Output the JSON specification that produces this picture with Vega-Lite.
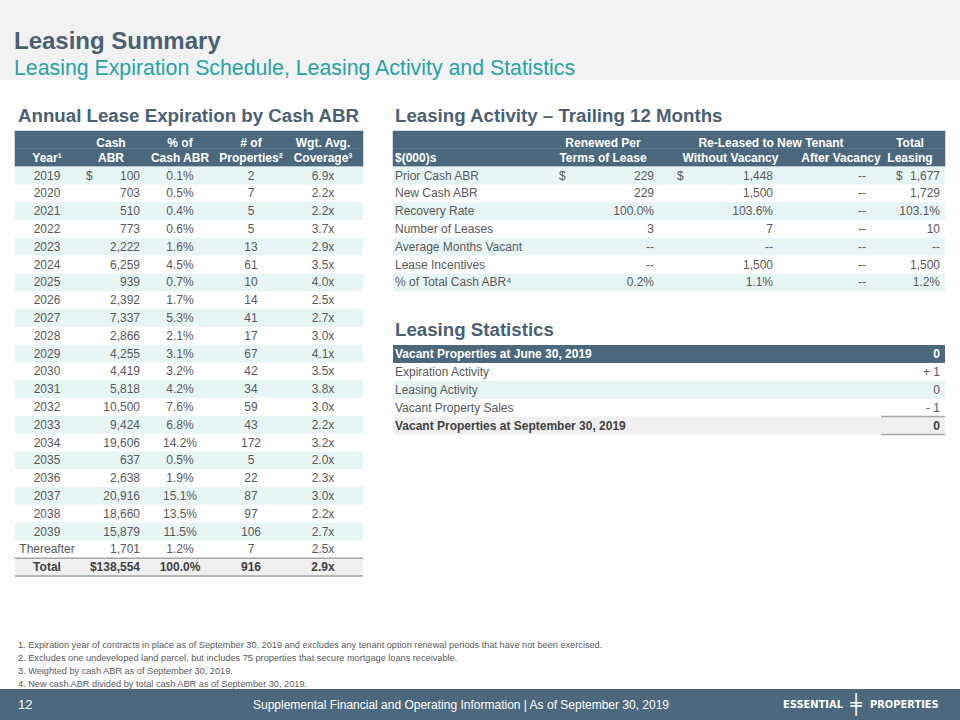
{
"$schema": "https://vega.github.io/schema/vega-lite/v6.json",
"width": 960, "height": 640,
"autosize": {"type": "none"},
"padding": {"left": 0, "top": 80, "right": 0, "bottom": 0},
"background": "#f2f2f2",
"config": {"font": "Liberation Sans", "view": {"fill": "#ffffff", "stroke": null}, "text": {"font": "Liberation Sans", "fontSize": 12, "color": "#595959"}},
"title": {"text": "Leasing Summary", "subtitle": "Leasing Expiration Schedule, Leasing Activity and Statistics", "anchor": "start", "frame": "group", "orient": "top", "offset": 1, "dx": 14, "font": "Liberation Sans", "fontSize": 24, "fontWeight": "bold", "color": "#4b6070", "subtitleFont": "Liberation Sans", "subtitleFontSize": 21.3, "subtitleFontWeight": "normal", "subtitleColor": "#27a3a5", "subtitlePadding": 4},
"datasets": {
"expiry": [
{"row":"2019","abr":100,"share":0.001,"props":2,"cov":6.9},
{"row":"2020","abr":703,"share":0.005,"props":7,"cov":2.2},
{"row":"2021","abr":510,"share":0.004,"props":5,"cov":2.2},
{"row":"2022","abr":773,"share":0.006,"props":5,"cov":3.7},
{"row":"2023","abr":2222,"share":0.016,"props":13,"cov":2.9},
{"row":"2024","abr":6259,"share":0.045,"props":61,"cov":3.5},
{"row":"2025","abr":939,"share":0.007,"props":10,"cov":4.0},
{"row":"2026","abr":2392,"share":0.017,"props":14,"cov":2.5},
{"row":"2027","abr":7337,"share":0.053,"props":41,"cov":2.7},
{"row":"2028","abr":2866,"share":0.021,"props":17,"cov":3.0},
{"row":"2029","abr":4255,"share":0.031,"props":67,"cov":4.1},
{"row":"2030","abr":4419,"share":0.032,"props":42,"cov":3.5},
{"row":"2031","abr":5818,"share":0.042,"props":34,"cov":3.8},
{"row":"2032","abr":10500,"share":0.076,"props":59,"cov":3.0},
{"row":"2033","abr":9424,"share":0.068,"props":43,"cov":2.2},
{"row":"2034","abr":19606,"share":0.142,"props":172,"cov":3.2},
{"row":"2035","abr":637,"share":0.005,"props":5,"cov":2.0},
{"row":"2036","abr":2638,"share":0.019,"props":22,"cov":2.3},
{"row":"2037","abr":20916,"share":0.151,"props":87,"cov":3.0},
{"row":"2038","abr":18660,"share":0.135,"props":97,"cov":2.2},
{"row":"2039","abr":15879,"share":0.115,"props":106,"cov":2.7},
{"row":"Thereafter","abr":1701,"share":0.012,"props":7,"cov":2.5},
{"row":"Total","abr":138554,"share":1.0,"props":916,"cov":2.9}
],
"expiryHeader": [
{"row":"title","heading":"Annual Lease Expiration by Cash ABR"},
{"row":"h1","year":"","abr":"Cash","pct":"% of","props":"# of","cov":"Wgt. Avg."},
{"row":"h2","year":"Year¹","abr":"ABR","pct":"Cash ABR","props":"Properties²","cov":"Coverage³"}
],
"activity": [
{"row":"Prior Cash ABR","renewed":"229","without":"1,448","after":"--","total":"1,677"},
{"row":"New Cash ABR","renewed":"229","without":"1,500","after":"--","total":"1,729"},
{"row":"Recovery Rate","renewed":"100.0%","without":"103.6%","after":"--","total":"103.1%"},
{"row":"Number of Leases","renewed":"3","without":"7","after":"--","total":"10"},
{"row":"Average Months Vacant","renewed":"--","without":"--","after":"--","total":"--"},
{"row":"Lease Incentives","renewed":"--","without":"1,500","after":"--","total":"1,500"},
{"row":"% of Total Cash ABR⁴","renewed":"0.2%","without":"1.1%","after":"--","total":"1.2%"}
],
"activityHeader": [
{"row":"title","heading":"Leasing Activity – Trailing 12 Months"},
{"row":"h1","metric":"","renewed":"Renewed Per","group":"Re-Leased to New Tenant","without":"","after":"","total":"Total"},
{"row":"h2","metric":"$(000)s","renewed":"Terms of Lease","group":"","without":"Without Vacancy","after":"After Vacancy","total":"Leasing"}
],
"stats": [
{"row":"Vacant Properties at June 30, 2019","value":0},
{"row":"Expiration Activity","value":1},
{"row":"Leasing Activity","value":0},
{"row":"Vacant Property Sales","value":-1},
{"row":"Vacant Properties at September 30, 2019","value":0}
],
"notes": [
{"n":1,"note":"Expiration year of contracts in place as of September 30, 2019 and excludes any tenant option renewal periods that have not been exercised."},
{"n":2,"note":"Excludes one undeveloped land parcel, but includes 75 properties that secure mortgage loans receivable."},
{"n":3,"note":"Weighted by cash ABR as of September 30, 2019."},
{"n":4,"note":"New cash ABR divided by total cash ABR as of September 30, 2019."}
],
"footer": [
{"row":"footer","page":12,"caption":"Supplemental Financial and Operating Information |  As of September 30, 2019","brand1":"ESSENTIAL","brand2":"PROPERTIES"}
]
},
"resolve": {"scale": {"x": "independent", "y": "independent"}},
"layer": [
{
"encoding": {"y": {"field": "row", "type": "nominal", "axis": null, "scale": {"type":"band","domain":["title","h1","h2","2019","2020","2021","2022","2023","2024","2025","2026","2027","2028","2029","2030","2031","2032","2033","2034","2035","2036","2037","2038","2039","Thereafter","Total"],"range":[33.2,496],"paddingInner":0,"paddingOuter":0}}},
"layer": [
{"data":{"name":"expiryHeader"},"transform":[{"filter":"datum.row != 'title'"}],"mark":{"type":"rect","color":"#4b687e","stroke":"#4b687e","strokeWidth":0.5},
 "encoding":{"x":{"datum":0,"type":"quantitative","axis":null,"scale":{"type":"linear","domain":[0,1,2,3,4,5,6,7,8,9],"range":[15,18,47,86,111,140,180,251,323,363],"nice":false,"zero":false}},"x2":{"datum":9}}},
{"data":{"name":"expiry"},"transform":[{"filter":"+datum.row % 2 == 1"}],"mark":{"type":"rect","color":"#e8f5f5"},
 "encoding":{"x":{"datum":0,"type":"quantitative","axis":null,"scale":{"type":"linear","domain":[0,1,2,3,4,5,6,7,8,9],"range":[15,18,47,86,111,140,180,251,323,363],"nice":false,"zero":false}},"x2":{"datum":9}}},
{"data":{"name":"expiry"},"transform":[{"filter":"datum.row == 'Total'"}],"mark":{"type":"rect","color":"#f0f0f0"},
 "encoding":{"x":{"datum":0,"type":"quantitative","axis":null,"scale":{"type":"linear","domain":[0,1,2,3,4,5,6,7,8,9],"range":[15,18,47,86,111,140,180,251,323,363],"nice":false,"zero":false}},"x2":{"datum":9}}},
{"data":{"name":"expiry"},"transform":[{"filter":"datum.row == 'Total'"}],"mark":{"type":"rule","color":"#a6a6a6","strokeWidth":1.5},
 "encoding":{"y":{"field":"row","type":"nominal","bandPosition":0,"axis":null},"x":{"datum":0,"type":"quantitative","axis":null,"scale":{"type":"linear","domain":[0,1,2,3,4,5,6,7,8,9],"range":[15,18,47,86,111,140,180,251,323,363],"nice":false,"zero":false}},"x2":{"datum":9}}},
{"data":{"name":"expiry"},"transform":[{"filter":"datum.row == 'Total'"}],"mark":{"type":"rule","color":"#a6a6a6","strokeWidth":1.5},
 "encoding":{"y":{"field":"row","type":"nominal","bandPosition":1,"axis":null},"x":{"datum":0,"type":"quantitative","axis":null,"scale":{"type":"linear","domain":[0,1,2,3,4,5,6,7,8,9],"range":[15,18,47,86,111,140,180,251,323,363],"nice":false,"zero":false}},"x2":{"datum":9}}},
{"data":{"name":"expiry"},"mark":{"type":"text","align":"center","fontWeight":{"expr":"datum.row == 'Total' ? 'bold' : 'normal'"},"color":{"expr":"datum.row == 'Total' ? '#404040' : '#595959'"}},
 "encoding":{"x":{"datum":2,"type":"quantitative","axis":null,"scale":{"type":"linear","domain":[0,1,2,3,4,5,6,7,8,9],"range":[15,18,47,86,111,140,180,251,323,363],"nice":false,"zero":false}},"text":{"field":"row","type":"nominal"}}},
{"data":{"name":"expiry"},"transform":[{"filter":"datum.row == '2019'"}],"mark":{"type":"text","align":"left","text":"$"},
 "encoding":{"x":{"datum":3,"type":"quantitative","axis":null,"scale":{"type":"linear","domain":[0,1,2,3,4,5,6,7,8,9],"range":[15,18,47,86,111,140,180,251,323,363],"nice":false,"zero":false}}}},
{"data":{"name":"expiry"},"transform":[{"filter":"datum.row != 'Total'"}],"mark":{"type":"text","align":"right"},
 "encoding":{"x":{"datum":5,"type":"quantitative","axis":null,"scale":{"type":"linear","domain":[0,1,2,3,4,5,6,7,8,9],"range":[15,18,47,86,111,140,180,251,323,363],"nice":false,"zero":false}},"text":{"field":"abr","type":"quantitative","format":","}}},
{"data":{"name":"expiry"},"transform":[{"filter":"datum.row == 'Total'"}],"mark":{"type":"text","align":"right","fontWeight":"bold","color":"#404040","text":{"expr":"'$' + format(datum.abr, ',')"}},
 "encoding":{"x":{"datum":5,"type":"quantitative","axis":null,"scale":{"type":"linear","domain":[0,1,2,3,4,5,6,7,8,9],"range":[15,18,47,86,111,140,180,251,323,363],"nice":false,"zero":false}}}},
{"data":{"name":"expiry"},"mark":{"type":"text","align":"center","fontWeight":{"expr":"datum.row == 'Total' ? 'bold' : 'normal'"},"color":{"expr":"datum.row == 'Total' ? '#404040' : '#595959'"}},
 "encoding":{"x":{"datum":6,"type":"quantitative","axis":null,"scale":{"type":"linear","domain":[0,1,2,3,4,5,6,7,8,9],"range":[15,18,47,86,111,140,180,251,323,363],"nice":false,"zero":false}},"text":{"field":"share","type":"quantitative","format":".1%"}}},
{"data":{"name":"expiry"},"mark":{"type":"text","align":"center","fontWeight":{"expr":"datum.row == 'Total' ? 'bold' : 'normal'"},"color":{"expr":"datum.row == 'Total' ? '#404040' : '#595959'"}},
 "encoding":{"x":{"datum":7,"type":"quantitative","axis":null,"scale":{"type":"linear","domain":[0,1,2,3,4,5,6,7,8,9],"range":[15,18,47,86,111,140,180,251,323,363],"nice":false,"zero":false}},"text":{"field":"props","type":"quantitative","format":"d"}}},
{"data":{"name":"expiry"},"mark":{"type":"text","align":"center","text":{"expr":"format(datum.cov, '.1f') + 'x'"},"fontWeight":{"expr":"datum.row == 'Total' ? 'bold' : 'normal'"},"color":{"expr":"datum.row == 'Total' ? '#404040' : '#595959'"}},
 "encoding":{"x":{"datum":8,"type":"quantitative","axis":null,"scale":{"type":"linear","domain":[0,1,2,3,4,5,6,7,8,9],"range":[15,18,47,86,111,140,180,251,323,363],"nice":false,"zero":false}}}},
{"data":{"name":"expiryHeader"},"transform":[{"filter":"datum.row != 'title'"}],"mark":{"type":"text","align":"center","fontWeight":"bold","color":"#ffffff","dy":{"expr":"datum.row == 'h1' ? 3 : 0"}},
 "encoding":{"x":{"datum":2,"type":"quantitative","axis":null,"scale":{"type":"linear","domain":[0,1,2,3,4,5,6,7,8,9],"range":[15,18,47,86,111,140,180,251,323,363],"nice":false,"zero":false}},"text":{"field":"year","type":"nominal"}}},
{"data":{"name":"expiryHeader"},"transform":[{"filter":"datum.row != 'title'"}],"mark":{"type":"text","align":"center","fontWeight":"bold","color":"#ffffff","dy":{"expr":"datum.row == 'h1' ? 3 : 0"}},
 "encoding":{"x":{"datum":4,"type":"quantitative","axis":null,"scale":{"type":"linear","domain":[0,1,2,3,4,5,6,7,8,9],"range":[15,18,47,86,111,140,180,251,323,363],"nice":false,"zero":false}},"text":{"field":"abr","type":"nominal"}}},
{"data":{"name":"expiryHeader"},"transform":[{"filter":"datum.row != 'title'"}],"mark":{"type":"text","align":"center","fontWeight":"bold","color":"#ffffff","dy":{"expr":"datum.row == 'h1' ? 3 : 0"}},
 "encoding":{"x":{"datum":6,"type":"quantitative","axis":null,"scale":{"type":"linear","domain":[0,1,2,3,4,5,6,7,8,9],"range":[15,18,47,86,111,140,180,251,323,363],"nice":false,"zero":false}},"text":{"field":"pct","type":"nominal"}}},
{"data":{"name":"expiryHeader"},"transform":[{"filter":"datum.row != 'title'"}],"mark":{"type":"text","align":"center","fontWeight":"bold","color":"#ffffff","dy":{"expr":"datum.row == 'h1' ? 3 : 0"}},
 "encoding":{"x":{"datum":7,"type":"quantitative","axis":null,"scale":{"type":"linear","domain":[0,1,2,3,4,5,6,7,8,9],"range":[15,18,47,86,111,140,180,251,323,363],"nice":false,"zero":false}},"text":{"field":"props","type":"nominal"}}},
{"data":{"name":"expiryHeader"},"transform":[{"filter":"datum.row != 'title'"}],"mark":{"type":"text","align":"center","fontWeight":"bold","color":"#ffffff","dy":{"expr":"datum.row == 'h1' ? 3 : 0"}},
 "encoding":{"x":{"datum":8,"type":"quantitative","axis":null,"scale":{"type":"linear","domain":[0,1,2,3,4,5,6,7,8,9],"range":[15,18,47,86,111,140,180,251,323,363],"nice":false,"zero":false}},"text":{"field":"cov","type":"nominal"}}},
{"data":{"name":"expiryHeader"},"transform":[{"filter":"datum.row == 'title'"}],"mark":{"type":"text","align":"left","baseline":"alphabetic","fontSize":18.7,"fontWeight":"bold","color":"#4b6070"},
 "encoding":{"x":{"datum":1,"type":"quantitative","axis":null,"scale":{"type":"linear","domain":[0,1,2,3,4,5,6,7,8,9],"range":[15,18,47,86,111,140,180,251,323,363],"nice":false,"zero":false}},"text":{"field":"heading","type":"nominal"}}}
]
},
{
"encoding": {"y": {"field": "row", "type": "nominal", "axis": null, "scale": {"type":"band","domain":["title","h1","h2","Prior Cash ABR","New Cash ABR","Recovery Rate","Number of Leases","Average Months Vacant","Lease Incentives","% of Total Cash ABR⁴"],"range":[33.2,211.2],"paddingInner":0,"paddingOuter":0}}},
"layer": [
{"data":{"name":"activityHeader"},"transform":[{"filter":"datum.row != 'title'"}],"mark":{"type":"rect","color":"#4b687e","stroke":"#4b687e","strokeWidth":0.5},
 "encoding":{"x":{"datum":0,"type":"quantitative","axis":null,"scale":{"type":"linear","domain":[0,1,2,3,4,5,6,7,8,9,10,11,12,13,14],"range":[393,395,559,603,654,677,730.5,771,773,841,866,896,910,940,945],"nice":false,"zero":false}},"x2":{"datum":14}}},
{"data":{"name":"activity"},"transform":[{"filter":{"field":"row","oneOf":["Prior Cash ABR","Recovery Rate","Average Months Vacant","% of Total Cash ABR⁴"]}}],"mark":{"type":"rect","color":"#e8f5f5"},
 "encoding":{"x":{"datum":0,"type":"quantitative","axis":null,"scale":{"type":"linear","domain":[0,1,2,3,4,5,6,7,8,9,10,11,12,13,14],"range":[393,395,559,603,654,677,730.5,771,773,841,866,896,910,940,945],"nice":false,"zero":false}},"x2":{"datum":14}}},
{"data":{"name":"activity"},"mark":{"type":"text","align":"left"},
 "encoding":{"x":{"datum":1,"type":"quantitative","axis":null,"scale":{"type":"linear","domain":[0,1,2,3,4,5,6,7,8,9,10,11,12,13,14],"range":[393,395,559,603,654,677,730.5,771,773,841,866,896,910,940,945],"nice":false,"zero":false}},"text":{"field":"row","type":"nominal"}}},
{"data":{"name":"activity"},"transform":[{"filter":"datum.row == 'Prior Cash ABR'"}],"mark":{"type":"text","align":"left","text":"$"},
 "encoding":{"x":{"datum":2,"type":"quantitative","axis":null,"scale":{"type":"linear","domain":[0,1,2,3,4,5,6,7,8,9,10,11,12,13,14],"range":[393,395,559,603,654,677,730.5,771,773,841,866,896,910,940,945],"nice":false,"zero":false}}}},
{"data":{"name":"activity"},"transform":[{"filter":"datum.row == 'Prior Cash ABR'"}],"mark":{"type":"text","align":"left","text":"$"},
 "encoding":{"x":{"datum":5,"type":"quantitative","axis":null,"scale":{"type":"linear","domain":[0,1,2,3,4,5,6,7,8,9,10,11,12,13,14],"range":[393,395,559,603,654,677,730.5,771,773,841,866,896,910,940,945],"nice":false,"zero":false}}}},
{"data":{"name":"activity"},"transform":[{"filter":"datum.row == 'Prior Cash ABR'"}],"mark":{"type":"text","align":"left","text":"$"},
 "encoding":{"x":{"datum":11,"type":"quantitative","axis":null,"scale":{"type":"linear","domain":[0,1,2,3,4,5,6,7,8,9,10,11,12,13,14],"range":[393,395,559,603,654,677,730.5,771,773,841,866,896,910,940,945],"nice":false,"zero":false}}}},
{"data":{"name":"activity"},"mark":{"type":"text","align":"right"},
 "encoding":{"x":{"datum":4,"type":"quantitative","axis":null,"scale":{"type":"linear","domain":[0,1,2,3,4,5,6,7,8,9,10,11,12,13,14],"range":[393,395,559,603,654,677,730.5,771,773,841,866,896,910,940,945],"nice":false,"zero":false}},"text":{"field":"renewed","type":"nominal"}}},
{"data":{"name":"activity"},"mark":{"type":"text","align":"right"},
 "encoding":{"x":{"datum":8,"type":"quantitative","axis":null,"scale":{"type":"linear","domain":[0,1,2,3,4,5,6,7,8,9,10,11,12,13,14],"range":[393,395,559,603,654,677,730.5,771,773,841,866,896,910,940,945],"nice":false,"zero":false}},"text":{"field":"without","type":"nominal"}}},
{"data":{"name":"activity"},"mark":{"type":"text","align":"right"},
 "encoding":{"x":{"datum":10,"type":"quantitative","axis":null,"scale":{"type":"linear","domain":[0,1,2,3,4,5,6,7,8,9,10,11,12,13,14],"range":[393,395,559,603,654,677,730.5,771,773,841,866,896,910,940,945],"nice":false,"zero":false}},"text":{"field":"after","type":"nominal"}}},
{"data":{"name":"activity"},"mark":{"type":"text","align":"right"},
 "encoding":{"x":{"datum":13,"type":"quantitative","axis":null,"scale":{"type":"linear","domain":[0,1,2,3,4,5,6,7,8,9,10,11,12,13,14],"range":[393,395,559,603,654,677,730.5,771,773,841,866,896,910,940,945],"nice":false,"zero":false}},"text":{"field":"total","type":"nominal"}}},
{"data":{"name":"activityHeader"},"transform":[{"filter":"datum.row != 'title'"}],"mark":{"type":"text","align":"left","fontWeight":"bold","color":"#ffffff","dy":{"expr":"datum.row == 'h1' ? 3 : 0"}},
 "encoding":{"x":{"datum":1,"type":"quantitative","axis":null,"scale":{"type":"linear","domain":[0,1,2,3,4,5,6,7,8,9,10,11,12,13,14],"range":[393,395,559,603,654,677,730.5,771,773,841,866,896,910,940,945],"nice":false,"zero":false}},"text":{"field":"metric","type":"nominal"}}},
{"data":{"name":"activityHeader"},"transform":[{"filter":"datum.row != 'title'"}],"mark":{"type":"text","align":"center","fontWeight":"bold","color":"#ffffff","dy":{"expr":"datum.row == 'h1' ? 3 : 0"}},
 "encoding":{"x":{"datum":3,"type":"quantitative","axis":null,"scale":{"type":"linear","domain":[0,1,2,3,4,5,6,7,8,9,10,11,12,13,14],"range":[393,395,559,603,654,677,730.5,771,773,841,866,896,910,940,945],"nice":false,"zero":false}},"text":{"field":"renewed","type":"nominal"}}},
{"data":{"name":"activityHeader"},"transform":[{"filter":"datum.row != 'title'"}],"mark":{"type":"text","align":"center","fontWeight":"bold","color":"#ffffff","dy":{"expr":"datum.row == 'h1' ? 3 : 0"}},
 "encoding":{"x":{"datum":7,"type":"quantitative","axis":null,"scale":{"type":"linear","domain":[0,1,2,3,4,5,6,7,8,9,10,11,12,13,14],"range":[393,395,559,603,654,677,730.5,771,773,841,866,896,910,940,945],"nice":false,"zero":false}},"text":{"field":"group","type":"nominal"}}},
{"data":{"name":"activityHeader"},"transform":[{"filter":"datum.row != 'title'"}],"mark":{"type":"text","align":"center","fontWeight":"bold","color":"#ffffff","dy":{"expr":"datum.row == 'h1' ? 3 : 0"}},
 "encoding":{"x":{"datum":6,"type":"quantitative","axis":null,"scale":{"type":"linear","domain":[0,1,2,3,4,5,6,7,8,9,10,11,12,13,14],"range":[393,395,559,603,654,677,730.5,771,773,841,866,896,910,940,945],"nice":false,"zero":false}},"text":{"field":"without","type":"nominal"}}},
{"data":{"name":"activityHeader"},"transform":[{"filter":"datum.row != 'title'"}],"mark":{"type":"text","align":"center","fontWeight":"bold","color":"#ffffff","dy":{"expr":"datum.row == 'h1' ? 3 : 0"}},
 "encoding":{"x":{"datum":9,"type":"quantitative","axis":null,"scale":{"type":"linear","domain":[0,1,2,3,4,5,6,7,8,9,10,11,12,13,14],"range":[393,395,559,603,654,677,730.5,771,773,841,866,896,910,940,945],"nice":false,"zero":false}},"text":{"field":"after","type":"nominal"}}},
{"data":{"name":"activityHeader"},"transform":[{"filter":"datum.row != 'title'"}],"mark":{"type":"text","align":"center","fontWeight":"bold","color":"#ffffff","dy":{"expr":"datum.row == 'h1' ? 3 : 0"}},
 "encoding":{"x":{"datum":12,"type":"quantitative","axis":null,"scale":{"type":"linear","domain":[0,1,2,3,4,5,6,7,8,9,10,11,12,13,14],"range":[393,395,559,603,654,677,730.5,771,773,841,866,896,910,940,945],"nice":false,"zero":false}},"text":{"field":"total","type":"nominal"}}},
{"data":{"name":"activityHeader"},"transform":[{"filter":"datum.row == 'title'"}],"mark":{"type":"text","align":"left","baseline":"alphabetic","fontSize":18.7,"fontWeight":"bold","color":"#4b6070"},
 "encoding":{"x":{"datum":1,"type":"quantitative","axis":null,"scale":{"type":"linear","domain":[0,1,2,3,4,5,6,7,8,9,10,11,12,13,14],"range":[393,395,559,603,654,677,730.5,771,773,841,866,896,910,940,945],"nice":false,"zero":false}},"text":{"field":"heading","type":"nominal"}}}
]
},
{
"data": {"name": "stats"},
"encoding": {"y": {"field": "row", "type": "nominal", "axis": null, "scale": {"type":"band","domain":["title","Vacant Properties at June 30, 2019","Expiration Activity","Leasing Activity","Vacant Property Sales","Vacant Properties at September 30, 2019"],"range":[247.1,354.5],"paddingInner":0,"paddingOuter":0}}},
"layer": [
{"transform":[{"filter":"datum.row == 'Vacant Properties at June 30, 2019'"}],"mark":{"type":"rect","color":"#4b687e"},
 "encoding":{"x":{"datum":0,"type":"quantitative","axis":null,"scale":{"type":"linear","domain":[0,1,2,3,4],"range":[393,395,881,940,945],"nice":false,"zero":false}},"x2":{"datum":4}}},
{"transform":[{"filter":"datum.row == 'Leasing Activity'"}],"mark":{"type":"rect","color":"#e8f5f5"},
 "encoding":{"x":{"datum":0,"type":"quantitative","axis":null,"scale":{"type":"linear","domain":[0,1,2,3,4],"range":[393,395,881,940,945],"nice":false,"zero":false}},"x2":{"datum":4}}},
{"transform":[{"filter":"datum.row == 'Vacant Properties at September 30, 2019'"}],"mark":{"type":"rect","color":"#f0f0f0"},
 "encoding":{"x":{"datum":0,"type":"quantitative","axis":null,"scale":{"type":"linear","domain":[0,1,2,3,4],"range":[393,395,881,940,945],"nice":false,"zero":false}},"x2":{"datum":4}}},
{"transform":[{"filter":"datum.row == 'Vacant Properties at September 30, 2019'"}],"mark":{"type":"rule","color":"#a6a6a6","strokeWidth":1.5},
 "encoding":{"y":{"field":"row","type":"nominal","bandPosition":0,"axis":null},"x":{"datum":2,"type":"quantitative","axis":null,"scale":{"type":"linear","domain":[0,1,2,3,4],"range":[393,395,881,940,945],"nice":false,"zero":false}},"x2":{"datum":4}}},
{"transform":[{"filter":"datum.row == 'Vacant Properties at September 30, 2019'"}],"mark":{"type":"rule","color":"#a6a6a6","strokeWidth":1.5},
 "encoding":{"y":{"field":"row","type":"nominal","bandPosition":1,"axis":null},"x":{"datum":2,"type":"quantitative","axis":null,"scale":{"type":"linear","domain":[0,1,2,3,4],"range":[393,395,881,940,945],"nice":false,"zero":false}},"x2":{"datum":4}}},
{"mark":{"type":"text","align":"left","fontWeight":{"expr":"indexof(datum.row, 'Vacant Properties') == 0 ? 'bold' : 'normal'"},"color":{"expr":"datum.row == 'Vacant Properties at June 30, 2019' ? '#ffffff' : (datum.row == 'Vacant Properties at September 30, 2019' ? '#404040' : '#595959')"}},
 "encoding":{"x":{"datum":1,"type":"quantitative","axis":null,"scale":{"type":"linear","domain":[0,1,2,3,4],"range":[393,395,881,940,945],"nice":false,"zero":false}},"text":{"field":"row","type":"nominal"}}},
{"mark":{"type":"text","align":"right","text":{"expr":"datum.value > 0 ? '+ ' + datum.value : (datum.value < 0 ? '- ' + abs(datum.value) : '' + datum.value)"},"fontWeight":{"expr":"indexof(datum.row, 'Vacant Properties') == 0 ? 'bold' : 'normal'"},"color":{"expr":"datum.row == 'Vacant Properties at June 30, 2019' ? '#ffffff' : (datum.row == 'Vacant Properties at September 30, 2019' ? '#404040' : '#595959')"}},
 "encoding":{"x":{"datum":3,"type":"quantitative","axis":null,"scale":{"type":"linear","domain":[0,1,2,3,4],"range":[393,395,881,940,945],"nice":false,"zero":false}}}},
{"data":{"values":[{"row":"title","heading":"Leasing Statistics"}]},"mark":{"type":"text","align":"left","baseline":"alphabetic","fontSize":18.7,"fontWeight":"bold","color":"#4b6070"},
 "encoding":{"x":{"datum":1,"type":"quantitative","axis":null,"scale":{"type":"linear","domain":[0,1,2,3,4],"range":[393,395,881,940,945],"nice":false,"zero":false}},"text":{"field":"heading","type":"nominal"}}}
]
},
{
"data": {"name": "notes"},
"mark": {"type": "text", "align": "left", "fontSize": 9.2, "color": "#595959", "text": {"expr": "datum.n + '.  ' + datum.note"}},
"encoding": {
 "y": {"field": "n", "type": "nominal", "axis": null, "scale": {"type":"band","domain":[1,2,3,4],"range":[558.5,610.5],"paddingInner":0,"paddingOuter":0}},
 "x": {"datum": 0, "type": "quantitative", "axis": null, "scale": {"type":"linear","domain":[0,1],"range":[18,960],"nice":false,"zero":false}}
}
},
{
"data": {"name": "footer"},
"encoding": {"y": {"field": "row", "type": "nominal", "axis": null, "scale": {"type":"band","domain":["footer"],"range":[609,640],"paddingInner":0,"paddingOuter":0}}},
"layer": [
{"mark":{"type":"rect","color":"#4b687e"},
 "encoding":{"x":{"datum":0,"type":"quantitative","axis":null,"scale":{"type":"linear","domain":[0,1,2,3,4,5,6],"range":[0,18,253,843,856,870,960],"nice":false,"zero":false}},"x2":{"datum":6}}},
{"mark":{"type":"text","align":"left","fontSize":13,"color":"#ffffff"},
 "encoding":{"x":{"datum":1,"type":"quantitative","axis":null,"scale":{"type":"linear","domain":[0,1,2,3,4,5,6],"range":[0,18,253,843,856,870,960],"nice":false,"zero":false}},"text":{"field":"page","type":"nominal"}}},
{"mark":{"type":"text","align":"left","fontSize":12,"color":"#ffffff"},
 "encoding":{"x":{"datum":2,"type":"quantitative","axis":null,"scale":{"type":"linear","domain":[0,1,2,3,4,5,6],"range":[0,18,253,843,856,870,960],"nice":false,"zero":false}},"text":{"field":"caption","type":"nominal"}}},
{"mark":{"type":"text","align":"right","fontSize":11,"fontWeight":"bold","font":"Liberation Sans Narrow, DejaVu Sans Condensed, sans-serif","color":"#ffffff"},
 "encoding":{"x":{"datum":3,"type":"quantitative","axis":null,"scale":{"type":"linear","domain":[0,1,2,3,4,5,6],"range":[0,18,253,843,856,870,960],"nice":false,"zero":false}},"text":{"field":"brand1","type":"nominal"}}},
{"mark":{"type":"text","align":"center","fontSize":19,"fontWeight":"bold","font":"DejaVu Sans","color":"#ffffff","text":"╪"},
 "encoding":{"x":{"datum":4,"type":"quantitative","axis":null,"scale":{"type":"linear","domain":[0,1,2,3,4,5,6],"range":[0,18,253,843,856,870,960],"nice":false,"zero":false}}}},
{"mark":{"type":"text","align":"left","fontSize":11,"fontWeight":"bold","font":"Liberation Sans Narrow, DejaVu Sans Condensed, sans-serif","color":"#ffffff"},
 "encoding":{"x":{"datum":5,"type":"quantitative","axis":null,"scale":{"type":"linear","domain":[0,1,2,3,4,5,6],"range":[0,18,253,843,856,870,960],"nice":false,"zero":false}},"text":{"field":"brand2","type":"nominal"}}}
]
}
]
}
